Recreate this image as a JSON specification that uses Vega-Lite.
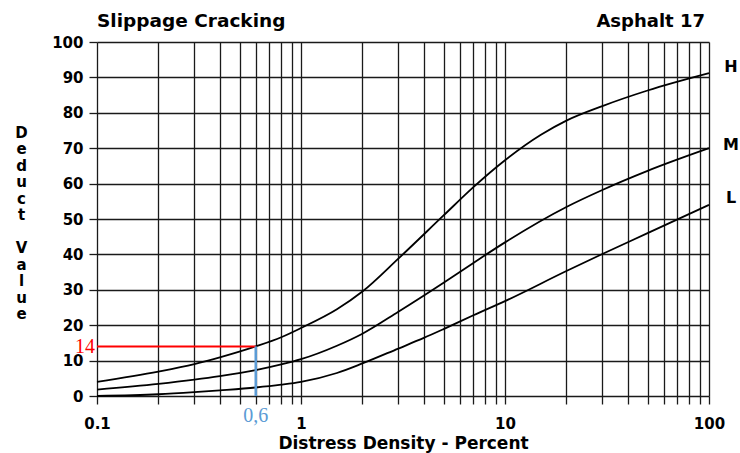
{
  "$schema": "https://vega.github.io/schema/vega-lite/v6.json",
  "width": 612,
  "height": 354,
  "autosize": "none",
  "padding": {"left": 97, "top": 42, "right": 31, "bottom": 57},
  "background": "white",
  "config": {
    "view": {"stroke": null},
    "axis": {
      "labelFont": "DejaVu Sans",
      "labelFontSize": 15,
      "labelFontWeight": "bold",
      "labelColor": "#000",
      "titleFont": "DejaVu Sans",
      "titleFontWeight": "bold",
      "titleColor": "#000",
      "gridColor": "#1a1a1a",
      "gridWidth": 1.3,
      "gridOpacity": 1,
      "tickColor": "#1a1a1a",
      "tickWidth": 1.3,
      "tickSize": 8,
      "domain": false
    }
  },
  "datasets": {
    "curves": [
      {"x": 0.1, "y": 4, "s": "H"}, {"x": 0.2, "y": 6.9, "s": "H"}, {"x": 0.3, "y": 9.0, "s": "H"}, {"x": 0.4, "y": 10.9, "s": "H"}, {"x": 0.6, "y": 14.0, "s": "H"}, {"x": 0.8, "y": 16.6, "s": "H"}, {"x": 1, "y": 19.2, "s": "H"}, {"x": 1.5, "y": 24.5, "s": "H"}, {"x": 2, "y": 29.5, "s": "H"}, {"x": 3, "y": 38.8, "s": "H"}, {"x": 5, "y": 51, "s": "H"}, {"x": 7, "y": 59, "s": "H"}, {"x": 10, "y": 66.6, "s": "H"}, {"x": 15, "y": 73.8, "s": "H"}, {"x": 20, "y": 77.8, "s": "H"}, {"x": 30, "y": 81.9, "s": "H"}, {"x": 50, "y": 86.3, "s": "H"}, {"x": 100, "y": 91.2, "s": "H"},
      {"x": 0.1, "y": 1.8, "s": "M"}, {"x": 0.2, "y": 3.4, "s": "M"}, {"x": 0.3, "y": 4.6, "s": "M"}, {"x": 0.4, "y": 5.6, "s": "M"}, {"x": 0.6, "y": 7.3, "s": "M"}, {"x": 0.8, "y": 8.9, "s": "M"}, {"x": 1, "y": 10.4, "s": "M"}, {"x": 1.5, "y": 14.2, "s": "M"}, {"x": 2, "y": 17.6, "s": "M"}, {"x": 3, "y": 23.8, "s": "M"}, {"x": 5, "y": 32, "s": "M"}, {"x": 7, "y": 37.6, "s": "M"}, {"x": 10, "y": 43.4, "s": "M"}, {"x": 20, "y": 53.4, "s": "M"}, {"x": 30, "y": 58.2, "s": "M"}, {"x": 50, "y": 63.6, "s": "M"}, {"x": 100, "y": 70, "s": "M"},
      {"x": 0.1, "y": 0, "s": "L"}, {"x": 0.2, "y": 0.5, "s": "L"}, {"x": 0.3, "y": 1.1, "s": "L"}, {"x": 0.4, "y": 1.6, "s": "L"}, {"x": 0.6, "y": 2.4, "s": "L"}, {"x": 0.8, "y": 3.2, "s": "L"}, {"x": 1, "y": 4, "s": "L"}, {"x": 1.5, "y": 6.5, "s": "L"}, {"x": 2, "y": 9.2, "s": "L"}, {"x": 3, "y": 13.4, "s": "L"}, {"x": 4, "y": 16.4, "s": "L"}, {"x": 5, "y": 18.9, "s": "L"}, {"x": 7, "y": 22.8, "s": "L"}, {"x": 10, "y": 26.8, "s": "L"}, {"x": 20, "y": 35.3, "s": "L"}, {"x": 30, "y": 40.1, "s": "L"}, {"x": 50, "y": 46, "s": "L"}, {"x": 100, "y": 54, "s": "L"}
    ],
    "curveLabels": [
      {"x": 100, "y": 92.9, "s": "H"},
      {"x": 100, "y": 70.8, "s": "M"},
      {"x": 100, "y": 55.8, "s": "L"}
    ],
    "redLine": [
      {"x": 0.1, "y": 14},
      {"x": 0.6, "y": 14}
    ],
    "blueLine": [
      {"x": 0.6, "y": 0},
      {"x": 0.6, "y": 14}
    ],
    "leftTitle": [{"x": 0.1, "y": 100, "label": "Slippage Cracking"}],
    "rightTitle": [{"x": 100, "y": 100, "label": "Asphalt 17"}],
    "redLabel": [{"x": 0.1, "y": 14, "label": "14"}],
    "blueLabel": [{"x": 0.6, "y": 0, "label": "0,6"}]
  },
  "encoding": {
    "x": {
      "field": "x",
      "type": "quantitative",
      "scale": {"type": "log", "domain": [0.1, 100], "nice": false},
      "axis": {
        "values": [0.1, 0.2, 0.3, 0.4, 0.5, 0.6, 0.7, 0.8, 0.9, 1, 2, 3, 4, 5, 6, 7, 8, 9, 10, 20, 30, 40, 50, 60, 70, 80, 90, 100],
        "labelExpr": "datum.value == 0.1 ? '0.1' : datum.value == 1 ? '1' : datum.value == 10 ? '10' : datum.value == 100 ? '100' : ''",
        "labelPadding": 12,
        "labelFlush": false,
        "labelOverlap": false,
        "title": "Distress Density - Percent",
        "titleFontSize": 17,
        "titlePadding": 4,
        "grid": true
      }
    },
    "y": {
      "field": "y",
      "type": "quantitative",
      "scale": {"domain": [0, 100], "nice": false},
      "axis": {
        "values": [0, 10, 20, 30, 40, 50, 60, 70, 80, 90, 100],
        "tickCount": 11,
        "labelPadding": 6,
        "labelFlush": false,
        "labelOverlap": false,
        "title": ["D", "e", "d", "u", "c", "t", "\u2800", "V", "a", "l", "u", "e"],
        "titleFontSize": 15,
        "titleAngle": 0,
        "titleAlign": "center",
        "titleBaseline": "middle",
        "titleLineHeight": 16.5,
        "titleX": -76,
        "titleY": 90,
        "grid": true
      }
    }
  },
  "layer": [
    {
      "data": {"name": "curves"},
      "mark": {"type": "line", "color": "#000", "strokeWidth": 1.8, "interpolate": "monotone", "clip": false},
      "encoding": {
        "detail": {"field": "s"}
      }
    },
    {
      "data": {"name": "redLine"},
      "mark": {"type": "line", "color": "#ff0000", "strokeWidth": 2},
      "encoding": {}
    },
    {
      "data": {"name": "blueLine"},
      "mark": {"type": "line", "color": "#5b9bd5", "strokeWidth": 2.5},
      "encoding": {}
    },
    {
      "data": {"name": "curveLabels"},
      "mark": {"type": "text", "font": "DejaVu Sans", "fontSize": 16, "fontWeight": "bold", "color": "#000", "align": "center", "baseline": "middle", "dx": 22, "clip": false},
      "encoding": {
        "text": {"field": "s"}
      }
    },
    {
      "data": {"name": "leftTitle"},
      "mark": {"type": "text", "font": "DejaVu Sans", "fontSize": 18.5, "fontWeight": "bold", "color": "#000", "align": "left", "baseline": "alphabetic", "dy": -15},
      "encoding": {
        "text": {"field": "label"}
      }
    },
    {
      "data": {"name": "rightTitle"},
      "mark": {"type": "text", "font": "DejaVu Sans", "fontSize": 18, "fontWeight": "bold", "color": "#000", "align": "right", "baseline": "alphabetic", "dx": -4, "dy": -15},
      "encoding": {
        "text": {"field": "label"}
      }
    },
    {
      "data": {"name": "redLabel"},
      "mark": {"type": "text", "font": "Liberation Serif", "fontSize": 20, "color": "#ff0000", "align": "right", "baseline": "middle", "dx": -2, "dy": 1},
      "encoding": {
        "text": {"field": "label"}
      }
    },
    {
      "data": {"name": "blueLabel"},
      "mark": {"type": "text", "font": "Liberation Serif", "fontSize": 20, "color": "#5b9bd5", "align": "center", "baseline": "alphabetic", "dy": 26},
      "encoding": {
        "text": {"field": "label"}
      }
    }
  ]
}
